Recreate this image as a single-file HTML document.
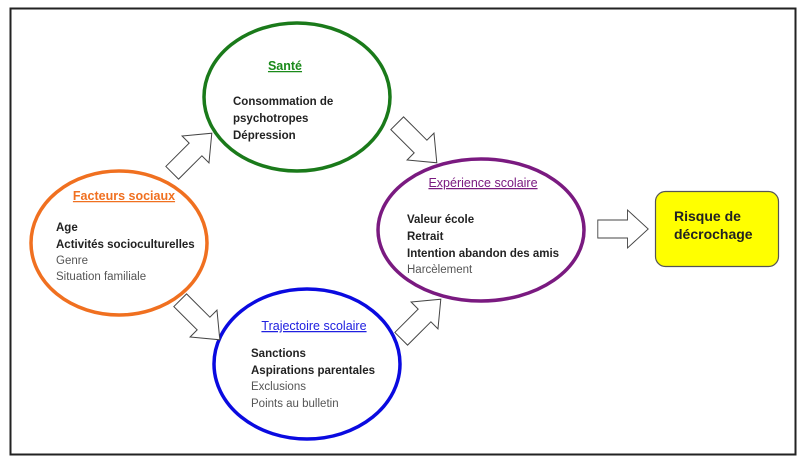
<!DOCTYPE html>
<html><head><meta charset="utf-8"><style>
body{margin:0;background:#fff}
svg{display:block}
text{font-family:"Liberation Sans",sans-serif;font-size:11.5px;fill:#222}
.b{font-weight:bold}
.g{fill:#555}
.t{font-size:12.5px;font-weight:bold;text-decoration:underline}
</style></head><body>
<svg width="803" height="470" viewBox="0 0 803 470">
<rect x="10.5" y="8.5" width="785" height="446" fill="#fff" stroke="#222" stroke-width="2"/>
<defs><polygon id="ar" points="-28,-9 5,-9 5,-19 28,0 5,19 5,9 -28,9" fill="#fff" stroke="#444" stroke-width="1"/></defs>
<ellipse cx="297" cy="97" rx="93" ry="74" fill="none" stroke="#1a7a1a" stroke-width="3.5"/>
<ellipse cx="119" cy="243" rx="88" ry="72" fill="none" stroke="#f07020" stroke-width="3.5"/>
<ellipse cx="307" cy="364" rx="93" ry="75" fill="none" stroke="#0a0ae0" stroke-width="3.5"/>
<ellipse cx="481" cy="230" rx="103" ry="71" fill="none" stroke="#7a1a80" stroke-width="3.5"/>
<rect x="655.5" y="191.5" width="123" height="75" rx="10" fill="#ffff00" stroke="#555" stroke-width="1.2"/>
<use href="#ar" transform="translate(192,153) rotate(-45)"/>
<use href="#ar" transform="translate(417,143) rotate(45)"/>
<use href="#ar" transform="translate(200,320) rotate(45)"/>
<use href="#ar" transform="translate(421,319) rotate(-45)"/>
<use href="#ar" transform="translate(623,229) scale(0.9,1)"/>
<text x="285" y="70" text-anchor="middle" class="t" style="fill:#1a8a1a">Santé</text>
<text x="233" y="105" class="b">Consommation de</text>
<text x="233" y="122" class="b">psychotropes</text>
<text x="233" y="139" class="b">Dépression</text>
<text x="124" y="200" text-anchor="middle" class="t" style="fill:#f07020">Facteurs sociaux</text>
<text x="56" y="231" class="b">Age</text>
<text x="56" y="248" class="b">Activités socioculturelles</text>
<text x="56" y="264" class="g">Genre</text>
<text x="56" y="280" class="g">Situation familiale</text>
<text x="314" y="330" text-anchor="middle" class="t" style="fill:#2020e0;font-weight:normal">Trajectoire scolaire</text>
<text x="251" y="357" class="b">Sanctions</text>
<text x="251" y="374" class="b">Aspirations parentales</text>
<text x="251" y="390" class="g">Exclusions</text>
<text x="251" y="407" class="g">Points au bulletin</text>
<text x="483" y="187" text-anchor="middle" class="t" style="fill:#7a1a80;font-weight:normal">Expérience scolaire</text>
<text x="407" y="223" class="b">Valeur école</text>
<text x="407" y="240" class="b">Retrait</text>
<text x="407" y="257" class="b">Intention abandon des amis</text>
<text x="407" y="273" class="g">Harcèlement</text>
<text x="674" y="221" class="b" style="font-size:14px">Risque de</text>
<text x="674" y="239" class="b" style="font-size:14px">décrochage</text>
</svg>
</body></html>
